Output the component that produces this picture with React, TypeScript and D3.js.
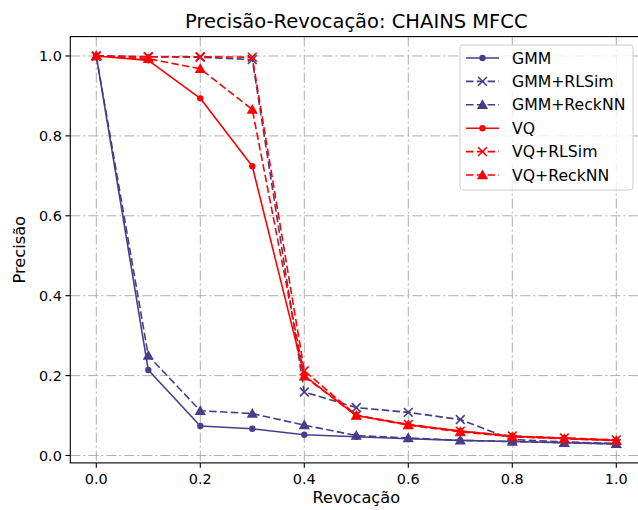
import React from "react";
import * as d3 from "d3";

const recall = [0.0, 0.1, 0.2, 0.3, 0.4, 0.5, 0.6, 0.7, 0.8, 0.9, 1.0];
const gmm = [1.0, 0.214, 0.074, 0.067, 0.052, 0.047, 0.042, 0.038, 0.035, 0.032, 0.029];
const gmmRLSim = [1.0, 0.998, 0.997, 0.991, 0.159, 0.12, 0.108, 0.09, 0.04, 0.034, 0.03];
const gmmReckNN = [1.0, 0.25, 0.112, 0.105, 0.076, 0.05, 0.044, 0.038, 0.035, 0.032, 0.029];
const vq = [1.0, 0.989, 0.894, 0.724, 0.2, 0.1, 0.077, 0.061, 0.048, 0.043, 0.038];
const vqRLSim = [1.0, 0.998, 0.998, 0.997, 0.212, 0.101, 0.078, 0.061, 0.049, 0.044, 0.039];
const vqReckNN = [1.0, 0.993, 0.968, 0.866, 0.198, 0.1, 0.076, 0.059, 0.047, 0.042, 0.037];

const seriesNames = ["GMM", "GMM+RLSim", "GMM+ReckNN", "VQ", "VQ+RLSim", "VQ+ReckNN"];
const seriesValues = [gmm, gmmRLSim, gmmReckNN, vq, vqRLSim, vqReckNN];
const seriesColors = ["#483D8B", "#483D8B", "#483D8B", "#FF0000", "#FF0000", "#FF0000"];
const seriesMarkers = ["circle", "x", "triangle", "circle", "x", "triangle"];
const seriesDashed = [false, true, true, false, true, true];

const xTicks = [0.0, 0.2, 0.4, 0.6, 0.8, 1.0];
const yTicks = [0.0, 0.2, 0.4, 0.6, 0.8, 1.0];

const W = 638;
const H = 510;
const L = 70.3;
const R = 642.3;
const T = 36.6;
const B = 462.9;
const FONT = "DejaVu Sans, sans-serif";

function Marker({ type, x, y, color }: { type: string; x: number; y: number; color: string }) {
  if (type === "circle") return <circle cx={x} cy={y} r={3.2} fill={color} />;
  if (type === "triangle") {
    const s = 5.6;
    const p = `${x},${y - s} ${x - s},${y + s * 0.75} ${x + s},${y + s * 0.75}`;
    return <polygon points={p} fill={color} />;
  }
  const s = 4.4;
  return (
    <g stroke={color} strokeWidth={1.6}>
      <line x1={x - s} y1={y - s} x2={x + s} y2={y + s} />
      <line x1={x - s} y1={y + s} x2={x + s} y2={y - s} />
    </g>
  );
}

export default function App() {
  const x = d3.scaleLinear().domain([-0.05, 1.05]).range([L, R]);
  const y = d3.scaleLinear().domain([-0.0185, 1.0485]).range([B, T]);
  const line = d3
    .line<number>()
    .x((_, i) => x(recall[i]))
    .y((d) => y(d));

  const gridStyle = { stroke: "#b0b0b0", strokeWidth: 1, strokeDasharray: "10,3,2,3" };
  const legX = 460;
  const legY = 45;
  const rowH = 23.4;

  return (
    <svg
      width={W}
      height={H}
      style={{ position: "absolute", left: 0, top: 0, background: "#fff" }}
      fontFamily={FONT}
    >
      <defs>
        <clipPath id="plotclip">
          <rect x={L} y={T} width={R - L} height={B - T} />
        </clipPath>
      </defs>
      <rect x={0} y={0} width={W} height={H} fill="#fff" />
      {xTicks.map((t) => (
        <line key={"gx" + t} x1={x(t)} x2={x(t)} y1={T} y2={B} {...gridStyle} />
      ))}
      {yTicks.map((t) => (
        <line key={"gy" + t} x1={L} x2={R} y1={y(t)} y2={y(t)} {...gridStyle} />
      ))}
      <g clipPath="url(#plotclip)">
        {seriesValues.map((vals, si) => (
          <g key={"s" + si}>
            <path
              d={line(vals) || ""}
              fill="none"
              stroke={seriesColors[si]}
              strokeWidth={1.6}
              strokeDasharray={seriesDashed[si] ? "7.5,3.3" : undefined}
              strokeLinejoin="round"
            />
            {vals.map((v, i) => (
              <Marker key={i} type={seriesMarkers[si]} x={x(recall[i])} y={y(v)} color={seriesColors[si]} />
            ))}
          </g>
        ))}
      </g>
      <rect x={L} y={T} width={R - L} height={B - T} fill="none" stroke="#000" strokeWidth={1.1} />
      {xTicks.map((t) => (
        <g key={"tx" + t}>
          <line x1={x(t)} x2={x(t)} y1={B} y2={B + 4.9} stroke="#000" strokeWidth={1.1} />
          <text x={x(t)} y={B + 21.5} fontSize={14.4} textAnchor="middle" fill="#000">
            {t.toFixed(1)}
          </text>
        </g>
      ))}
      {yTicks.map((t) => (
        <g key={"ty" + t}>
          <line x1={L - 4.9} x2={L} y1={y(t)} y2={y(t)} stroke="#000" strokeWidth={1.1} />
          <text x={L - 8.5} y={y(t) + 5.2} fontSize={14.4} textAnchor="end" fill="#000">
            {t.toFixed(1)}
          </text>
        </g>
      ))}
      <text x={(L + R) / 2} y={28} fontSize={19.5} textAnchor="middle" fill="#000">
        Precisão-Revocação: CHAINS MFCC
      </text>
      <text x={(L + R) / 2} y={503} fontSize={16.2} textAnchor="middle" fill="#000">
        Revocação
      </text>
      <text
        transform={`translate(25,${(T + B) / 2}) rotate(-90)`}
        fontSize={16.2}
        textAnchor="middle"
        fill="#000"
      >
        Precisão
      </text>
      <rect x={legX} y={legY} width={173} height={145} rx={3} fill="#fff" fillOpacity={0.8} stroke="#cccccc" strokeWidth={1} />
      {seriesNames.map((name, i) => {
        const cy = legY + 13 + i * rowH;
        return (
          <g key={"lg" + i}>
            <line
              x1={legX + 6}
              x2={legX + 39}
              y1={cy}
              y2={cy}
              stroke={seriesColors[i]}
              strokeWidth={1.6}
              strokeDasharray={seriesDashed[i] ? "7.5,3.3" : undefined}
            />
            <Marker type={seriesMarkers[i]} x={legX + 22.5} y={cy} color={seriesColors[i]} />
            <text x={legX + 52} y={cy + 5.6} fontSize={15.7} fill="#000">
              {name}
            </text>
          </g>
        );
      })}
    </svg>
  );
}
